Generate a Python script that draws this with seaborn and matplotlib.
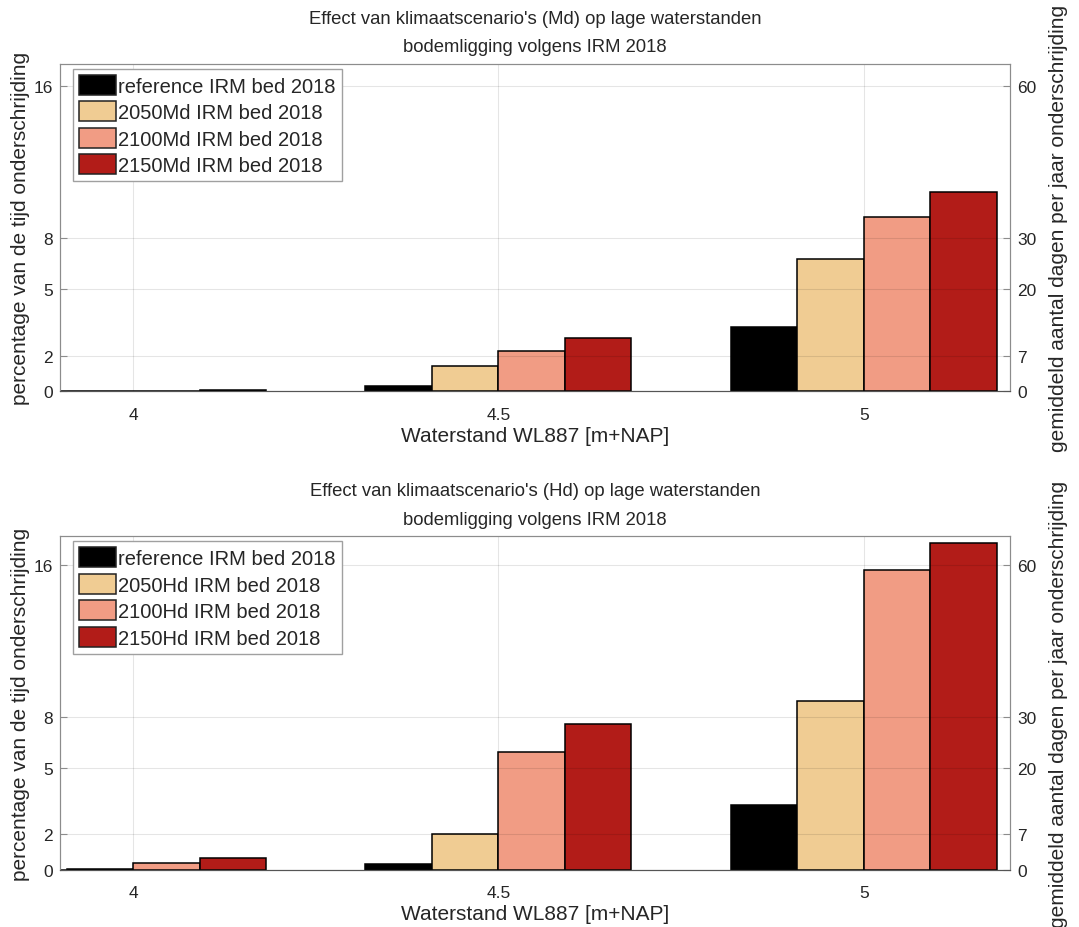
import numpy as np
import pandas as pd
import seaborn as sns
import matplotlib.pyplot as plt

# Gegevens, percentage van de tijd onderschrijding
waterstand = [4.0, 4.5, 5.0]

scenarios_md = ['reference IRM bed 2018', '2050Md IRM bed 2018',
                '2100Md IRM bed 2018', '2150Md IRM bed 2018']
ref_md = [0.0, 0.27, 3.47]
md_2050 = [0.01, 1.38, 7.10]
md_2100 = [0.02, 2.15, 9.39]
md_2150 = [0.07, 2.85, 10.70]

scenarios_hd = ['reference IRM bed 2018', '2050Hd IRM bed 2018',
                '2100Hd IRM bed 2018', '2150Hd IRM bed 2018']
ref_hd = [0.0, 0.29, 3.49]
hd_2050 = [0.02, 1.94, 9.12]
hd_2100 = [0.35, 6.37, 16.19]
hd_2150 = [0.65, 7.85, 17.65]

kleuren = ['#000000', '#F0CC93', '#F19C84', '#B21C18']
dagen_ticks = [0, 7, 20, 30, 60]
pct_labels = ['0', '2', '5', '8', '16']

sns.set_style('white')
plt.rcParams['font.family'] = ['Liberation Sans', 'DejaVu Sans']

tekstkleur = '#262626'
randkleur = '#8c8c8c'


def teken(ax, scenarios, reeksen, titel, ymax):
    df = pd.DataFrame({
        'waterstand': np.tile(waterstand, len(scenarios)),
        'scenario': np.repeat(scenarios, len(waterstand)),
        'pct': np.concatenate(reeksen),
    })
    sns.barplot(data=df, x='waterstand', y='pct', hue='scenario',
                hue_order=scenarios, palette=kleuren, native_scale=True,
                width=0.728, gap=0, saturation=1, errorbar=None,
                edgecolor='black', linewidth=1.1, ax=ax)

    tick_pos = [d / 365 * 100 for d in dagen_ticks]
    ax.set_xlim(3.9, 5.2)
    ax.set_ylim(0, ymax)
    ax.set_xticks([4, 4.5, 5], ['4', '4.5', '5'])
    ax.set_yticks(tick_pos, pct_labels)
    ax.tick_params(direction='in', length=5, labelsize=12.5, colors=randkleur,
                   labelcolor=tekstkleur, pad=5)
    ax.tick_params(axis='x', pad=11)
    ax.grid(True, color='black', alpha=0.1, linewidth=0.8)
    ax.set_axisbelow(False)
    for s in ax.spines.values():
        s.set_color(randkleur)
        s.set_linewidth(0.8)
    ax.spines['bottom'].set_color('#555555')

    ax.set_title(titel, fontsize=13.3, color=tekstkleur, pad=9, linespacing=1.9)
    ax.set_xlabel('Waterstand WL887 [m+NAP]', fontsize=15, color=tekstkleur, labelpad=3)
    ax.set_ylabel('percentage van de tijd onderschrijding', fontsize=15,
                  color=tekstkleur, labelpad=3)

    sns.move_legend(ax, 'upper left', bbox_to_anchor=(0.014, 0.985), title=None,
                    fontsize=14.5, frameon=True, fancybox=False, framealpha=1,
                    edgecolor='#a0a0a0', borderpad=0.3, labelspacing=0.28,
                    handlelength=1.8, handleheight=1.15, handletextpad=0.12,
                    borderaxespad=0)
    for h in ax.get_legend().legend_handles:
        h.set_edgecolor('#222222')
        h.set_linewidth(1.1)

    ax2 = ax.twinx()
    ax2.set_ylim(0, ymax)
    ax2.set_yticks(tick_pos, [str(d) for d in dagen_ticks])
    ax2.tick_params(direction='in', length=5, labelsize=12.5, colors=randkleur,
                    labelcolor=tekstkleur, pad=5)
    for s in ax2.spines.values():
        s.set_color(randkleur)
        s.set_linewidth(0.8)
    ax2.spines['bottom'].set_color('#555555')
    ax2.set_ylabel('gemiddeld aantal dagen per jaar onderschrijding', fontsize=15,
                   color=tekstkleur, labelpad=9)


fig = plt.figure(figsize=(10.79, 9.28), dpi=100)
ax_md = fig.add_axes([0.0556, 0.5773, 0.8804, 0.3527])
ax_hd = fig.add_axes([0.0556, 0.0617, 0.8804, 0.3593])

teken(ax_md, scenarios_md, [ref_md, md_2050, md_2100, md_2150],
      "Effect van klimaatscenario's (Md) op lage waterstanden\nbodemligging volgens IRM 2018", 17.6)
teken(ax_hd, scenarios_hd, [ref_hd, hd_2050, hd_2100, hd_2150],
      "Effect van klimaatscenario's (Hd) op lage waterstanden\nbodemligging volgens IRM 2018", 18.0)

fig.savefig('out.png', dpi=100)
